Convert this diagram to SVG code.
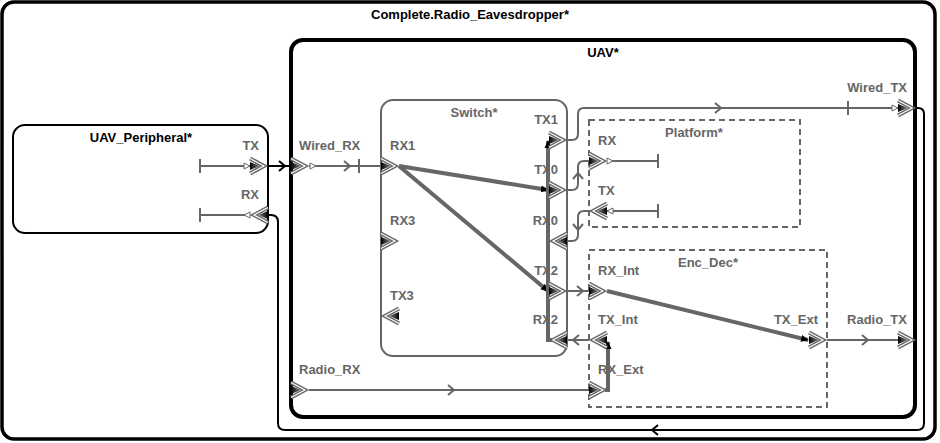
<svg xmlns="http://www.w3.org/2000/svg" xmlns:xlink="http://www.w3.org/1999/xlink" width="940" height="443" viewBox="0 0 940 443">
<style>
.ttl{font-family:"Liberation Sans",Arial,sans-serif;font-weight:bold;font-size:13px;text-anchor:middle}
.blk{fill:#000}
.gry{fill:#666}
.pl{font-family:"Liberation Sans",Arial,sans-serif;font-weight:bold;font-size:13px;fill:#666}
.end{text-anchor:end}
.box{fill:#fff;stroke:#000}
.sbox{fill:#fff;stroke:#666;stroke-width:2}
.dbox{fill:none;stroke:#666;stroke-width:2;stroke-dasharray:6 4}
.w{fill:none;stroke:#666;stroke-width:2}
.wb{fill:none;stroke:#000;stroke-width:2}
.th{fill:none;stroke:#666;stroke-width:4}
.oa{stroke:#666}
.oab{stroke:#000}
</style>
<defs>
<linearGradient id="pg" x1="0" y1="0" x2="1" y2="0">
<stop offset="0" stop-color="#000"/>
<stop offset="1" stop-color="#888"/>
</linearGradient>
<g id="port">
<path d="M0,-7.5 L14,0 L0,7.5" fill="none" stroke="#666" stroke-width="4" stroke-miterlimit="10"/>
<path d="M0,-7.5 L14,0 L0,7.5" fill="none" stroke="#fff" stroke-width="1.2" stroke-miterlimit="10"/>
<path d="M0,-4 L10,0 L0,4 Z" fill="url(#pg)"/>
</g>
<path id="ht" d="M-6,-3 L0,0 L-6,3 Z" fill="#fff" stroke="#666" stroke-width="1"/>
<path id="oarr" d="M-3,-5 L3,0 L-3,5" fill="none" stroke-width="2"/>
<path id="tick" d="M0,-7 V7" stroke="#666" stroke-width="2"/>
<marker id="ah" viewBox="0 0 8 8" refX="7" refY="4" markerWidth="8" markerHeight="8" markerUnits="userSpaceOnUse" orient="auto">
<path d="M0,0.5 L8,4 L0,7.5 z" fill="#000"/>
</marker>
</defs>

<g id="complete">
<rect class="box" x="2" y="2" width="933" height="437" rx="12" stroke-width="3.5"/>
<text class="ttl blk" x="470" y="19">Complete.Radio_Eavesdropper*</text>
</g>

<g id="uav">
<rect class="box" x="291" y="40" width="624" height="377" rx="12" stroke-width="4"/>
<text class="ttl blk" x="603" y="57">UAV*</text>
<path class="w" d="M309,166 H359"/>
<use href="#tick" x="359" y="166"/>
<use href="#port" transform="translate(291,166)"/>
<use href="#ht" transform="translate(316,166)"/>
<text class="pl" x="299" y="150">Wired_RX</text>
<path class="w" d="M848,108 H898"/>
<use href="#tick" x="848" y="108"/>
<use href="#ht" transform="translate(898,108)"/>
<use href="#port" transform="translate(898,108)"/>
<text class="pl end" x="907" y="92">Wired_TX</text>
<use href="#port" transform="translate(291,390)"/>
<text class="pl" x="299" y="374">Radio_RX</text>
<use href="#port" transform="translate(898,340)"/>
<text class="pl end" x="907" y="324">Radio_TX</text>
</g>

<g id="uav_peripheral">
<rect class="box" x="13" y="125" width="255" height="108" rx="12" stroke-width="2"/>
<text class="ttl blk" x="141" y="142">UAV_Peripheral*</text>
<path class="w" d="M200,166 H250"/>
<use href="#tick" x="200" y="166"/>
<use href="#ht" transform="translate(250,166)"/>
<use href="#port" transform="translate(250,166)"/>
<text class="pl end" x="259" y="150">TX</text>
<path class="w" d="M200,215 H250"/>
<use href="#tick" x="200" y="215"/>
<use href="#ht" transform="translate(244,215) scale(-1,1)"/>
<use href="#port" transform="translate(268,215) scale(-1,1)"/>
<text class="pl end" x="259" y="199">RX</text>
</g>

<g id="switch">
<rect class="sbox" x="381" y="100" width="186" height="256" rx="12"/>
<text class="ttl gry" x="474" y="117">Switch*</text>
<path class="th" d="M399,166 L548,190" marker-end="url(#ah)"/>
<path class="th" d="M399,166 L548,291" marker-end="url(#ah)"/>
<path class="th" d="M552,340 H548 V141" marker-end="url(#ah)"/>
<use href="#port" transform="translate(381,166)"/>
<text class="pl" x="390" y="150">RX1</text>
<use href="#port" transform="translate(381,241)"/>
<text class="pl" x="390" y="225">RX3</text>
<use href="#port" transform="translate(399,316) scale(-1,1)"/>
<text class="pl" x="390" y="300">TX3</text>
<use href="#port" transform="translate(549,140)"/>
<text class="pl end" x="558" y="124">TX1</text>
<use href="#port" transform="translate(549,190)"/>
<text class="pl end" x="558" y="174">TX0</text>
<use href="#port" transform="translate(567,241) scale(-1,1)"/>
<text class="pl end" x="558" y="225">RX0</text>
<use href="#port" transform="translate(549,291)"/>
<text class="pl end" x="558" y="275">TX2</text>
<use href="#port" transform="translate(567,340) scale(-1,1)"/>
<text class="pl end" x="558" y="324">RX2</text>
</g>

<g id="platform">
<rect class="dbox" x="589" y="120" width="211" height="107"/>
<text class="ttl gry" x="694" y="137">Platform*</text>
<path class="w" d="M607,161 H658"/>
<use href="#tick" x="658" y="161"/>
<use href="#ht" transform="translate(613,161)"/>
<use href="#port" transform="translate(589,161)"/>
<text class="pl" x="598" y="145">RX</text>
<path class="w" d="M607,211 H658"/>
<use href="#tick" x="658" y="211"/>
<use href="#ht" transform="translate(607,211) scale(-1,1)"/>
<use href="#port" transform="translate(607,211) scale(-1,1)"/>
<text class="pl" x="598" y="195">TX</text>
</g>

<g id="enc_dec">
<rect class="dbox" x="589" y="250" width="238" height="157"/>
<text class="ttl gry" x="708" y="267">Enc_Dec*</text>
<path class="th" d="M607,291 L808,340" marker-end="url(#ah)"/>
<path class="th" d="M605,390 H608 V342" marker-end="url(#ah)"/>
<use href="#port" transform="translate(589,291)"/>
<text class="pl" x="598" y="275">RX_Int</text>
<use href="#port" transform="translate(607,340) scale(-1,1)"/>
<text class="pl" x="598" y="324">TX_Int</text>
<use href="#port" transform="translate(589,390)"/>
<text class="pl" x="598" y="374">RX_Ext</text>
<use href="#port" transform="translate(809,340)"/>
<text class="pl end" x="818" y="324">TX_Ext</text>
</g>

<g id="connectors">
<path class="wb" d="M268,166 H291"/>
<use href="#oarr" class="oab" transform="translate(282,166)"/>
<path class="w" d="M316,166 H381"/>
<use href="#oarr" class="oa" transform="translate(347,166)"/>
<path class="w" d="M567,140 H572 Q578,140 578,134 V114 Q578,108 584,108 H892"/>
<use href="#oarr" class="oa" transform="translate(718,108)"/>
<path class="w" d="M567,190 H572 Q578,190 578,184 V167 Q578,161 584,161 H589"/>
<use href="#oarr" class="oa" transform="translate(578,176) rotate(-90)"/>
<path class="w" d="M589,211 H584 Q578,211 578,217 V235 Q578,241 572,241 H567"/>
<use href="#oarr" class="oa" transform="translate(578,227) rotate(90)"/>
<path class="w" d="M567,291 H589"/>
<use href="#oarr" class="oa" transform="translate(580,291)"/>
<path class="w" d="M589,340 H567"/>
<use href="#oarr" class="oa" transform="translate(576,340) rotate(180)"/>
<path class="w" d="M309,390 H589"/>
<use href="#oarr" class="oa" transform="translate(451,390)"/>
<path class="w" d="M827,340 H898"/>
<use href="#oarr" class="oa" transform="translate(865,340)"/>
<path class="wb" d="M916,108 H918 Q924,108 924,114 V423 Q924,430 917,430 H285 Q278,430 278,423 V222 Q278,215 271,215 H268"/>
<use href="#oarr" class="oab" transform="translate(655,430) rotate(180)"/>
</g>
</svg>
